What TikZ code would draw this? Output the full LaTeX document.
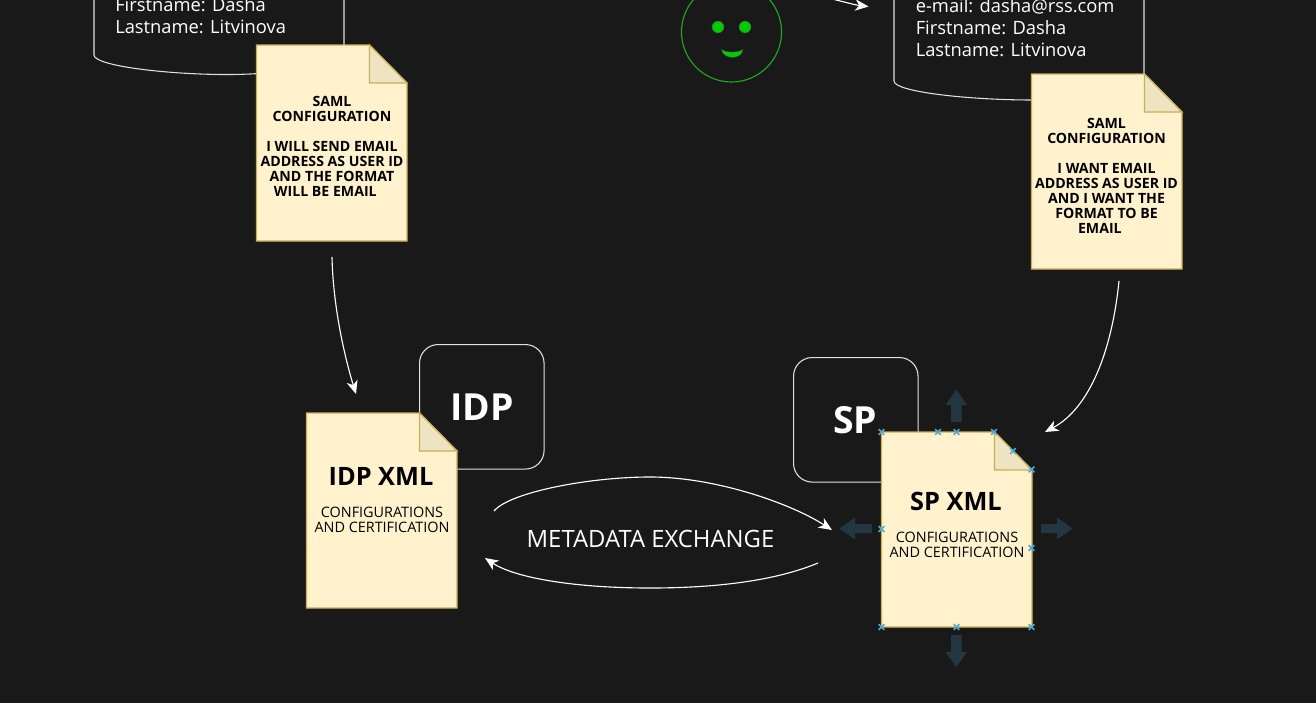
\documentclass[tikz,border=0pt]{standalone}
\usepackage{fontspec}
\setmainfont{Open Sans}
\usetikzlibrary{arrows.meta,shapes.geometric}
\definecolor{bgc}{HTML}{191919}
\definecolor{docfill}{HTML}{FFF2CC}
\definecolor{docline}{HTML}{C9AE5A}
\definecolor{foldfill}{HTML}{EFE4C2}
\definecolor{hov}{HTML}{233743}
\definecolor{mark}{HTML}{4FA8D0}
\definecolor{smile}{HTML}{00CC00}
\definecolor{smileline}{HTML}{1FA81F}
\tikzset{
  x=0.75pt,y=-0.75pt,
  wire/.style={draw=white,line width=0.85pt,-{Stealth[length=10pt,width=8.5pt,inset=3pt]}},
  outl/.style={draw=white!88!black,line width=0.8pt},
  paper/.style={draw=docline,fill=docfill,line width=0.9pt,line join=miter},
  foldp/.style={draw=docline,fill=foldfill,line width=0.9pt},
  whitetxt/.style={text=white,inner sep=0pt,align=left,anchor=north west,font=\fontsize{13.75pt}{16.5pt}\selectfont},
  notetxt/.style={text=black,inner sep=0pt,align=center,font=\fontsize{10.6pt}{11.25pt}\selectfont\bfseries},
  subtxt/.style={text=black,inner sep=0pt,align=center,font=\fontsize{10.8pt}{11.25pt}\selectfont},
  head/.style={text=black,inner sep=0pt,font=\fontsize{19pt}{22pt}\selectfont\bfseries},
  bighead/.style={text=white,inner sep=0pt,font=\fontsize{28pt}{32pt}\selectfont\bfseries},
  hoverarrow/.style={fill=hov,draw=none},
  cross/.style={draw=mark,line width=1.1pt},
  face/.style={fill=smile,draw=black!70,line width=0.3pt},
}
\newcommand{\papersheet}[4]{% name, left, top, height
  \draw[paper] (#2,#3) -- ++(113,0) -- ++(37.5,38) -- (#2+150.5,#3+#4) -- (#2,#3+#4) -- cycle;
  \draw[foldp] (#2+113,#3) -- (#2+150.5,#3+38) -- (#2+113,#3+38) -- cycle;
  \node[minimum width=112.9pt,minimum height=#4*0.75pt,inner sep=0pt,anchor=north west] (#1) at (#2,#3) {};
}
\newcommand{\crossmark}[2]{%
  \draw[cross] (#1-2.8,#2-2.8) -- (#1+2.8,#2+2.8) (#1-2.8,#2+2.8) -- (#1+2.8,#2-2.8);
}
\begin{document}
\begin{tikzpicture}
\useasboundingbox (0,0) rectangle (1316,703);
\clip (0,0) rectangle (1316,703);
\fill[bgc] (0,0) rectangle (1316,703);

% upper left data store
\draw[outl] (94,-10) -- (94,55) .. controls (94,66) and (170,75) .. (232,74.5) .. controls (280,74) and (344,66) .. (344,55) -- (344,-10);
\node[whitetxt] (userL) at (115,-2.5) {Firstname: Dasha\\Lastname: Litvinova};

% upper right data store
\draw[outl] (894,-10) -- (894,81) .. controls (894,92) and (970,100) .. (1032,100) .. controls (1080,100) and (1144,92) .. (1144,81) -- (1144,-10);
\node[whitetxt] (userR) at (915.5,-1.5) {e-mail: dasha@rss.com\\Firstname: Dasha\\Lastname: Litvinova};

% smiley
\node[circle,draw=smileline,line width=0.85pt,minimum size=75pt,inner sep=0pt] (smiley) at (731.5,32) {};
\fill[face] (718,27) circle (6);
\fill[face] (745,27) circle (6);
\filldraw[face] (721.5,49.5) .. controls (727,53) and (737,53) .. (743,49.5) .. controls (742,60) and (723,60) .. (721.5,49.5) -- cycle;

% notes
\papersheet{noteL}{256.5}{45}{196}
\node[notetxt] (noteLtxt) at (332,146) {SAML\\CONFIGURATION\\[11.25pt]I WILL SEND EMAIL\\ADDRESS AS USER ID\\AND THE FORMAT\\WILL BE EMAIL\hspace*{10pt}};
\papersheet{noteR}{1031.5}{74}{195}
\node[notetxt] (noteRtxt) at (1106.5,175.5) {SAML\\CONFIGURATION\\[11.25pt]I WANT EMAIL\\ADDRESS AS USER ID\\AND I WANT THE\\FORMAT TO BE\\EMAIL\hspace*{10pt}};

% role boxes
\node[draw=white!88!black,line width=0.8pt,rounded corners=14pt,minimum size=93.4pt,inner sep=0pt,anchor=north west,bighead] (idpbox) at (419,344) {IDP};
\node[draw=white!88!black,line width=0.8pt,rounded corners=14pt,minimum size=93.4pt,inner sep=0pt,anchor=north west] (spbox) at (793,357) {};
\node[bighead] (splabel) at (855,420) {SP};

% xml documents
\papersheet{idpdoc}{306.5}{413}{195}
\node[head] (idphead) at (381,476) {IDP XML};
\node[subtxt] (idpsub) at (382,519.5) {CONFIGURATIONS\\AND CERTIFICATION};
\papersheet{spdoc}{881.5}{432}{195}
\node[head] (sphead) at (956,501) {SP XML};
\node[subtxt] (spsub) at (957,544.5) {CONFIGURATIONS\\AND CERTIFICATION};

% metadata label
\node[text=white,inner sep=0pt,font=\fontsize{17.9pt}{20pt}\selectfont] (meta) at (650.5,539) {METADATA EXCHANGE};

% hover arrows
\fill[hoverarrow] (951,422) -- (951,405) -- (945.5,405) -- (956.3,389.5) -- (967,405) -- (961.5,405) -- (961.5,422) -- cycle;
\fill[hoverarrow] (951,635) -- (951,652) -- (945.5,652) -- (956.3,667) -- (967,652) -- (961.5,652) -- (961.5,635) -- cycle;
\fill[hoverarrow] (872,524) -- (855,524) -- (855,517.5) -- (839.5,528.5) -- (855,539.5) -- (855,533) -- (872,533) -- cycle;
\fill[hoverarrow] (1041,524) -- (1057,524) -- (1057,517.5) -- (1072.5,528.5) -- (1057,539.5) -- (1057,533) -- (1041,533) -- cycle;

% selection marks
\crossmark{881.5}{432}\crossmark{938}{432}\crossmark{956.5}{432}\crossmark{994}{432}
\crossmark{1013}{451}\crossmark{1031.5}{469.5}\crossmark{881.5}{529}\crossmark{1031.5}{548}
\crossmark{881.5}{627}\crossmark{956.5}{627}\crossmark{1031.5}{627}

% connector ends
\coordinate (topA) at (832,-1);
\coordinate (topB) at (868.5,6.5);
\coordinate (noteLout) at (332,257);
\coordinate (idpin) at (356,394);
\coordinate (noteRout) at (1119,281);
\coordinate (spin) at (1045,432);
\coordinate (reqA) at (494,511);
\coordinate (reqB) at (832,530);
\coordinate (resA) at (818,563);
\coordinate (resB) at (485,558);

\draw[wire] (topA) .. controls (845,2) and (855,5) .. (topB);
\draw[wire] (noteLout) .. controls (333,305) and (344,355) .. (idpin);
\draw[wire] (noteRout) .. controls (1112,350) and (1090,408) .. (spin);
\draw[wire] (reqA) .. controls (510,492) and (590,477) .. (650,477) .. controls (715,477) and (790,503) .. (reqB);
\draw[wire] (resA) .. controls (770,583) and (705,588) .. (650,588) .. controls (575,588) and (515,578) .. (resB);
\end{tikzpicture}
\end{document}
